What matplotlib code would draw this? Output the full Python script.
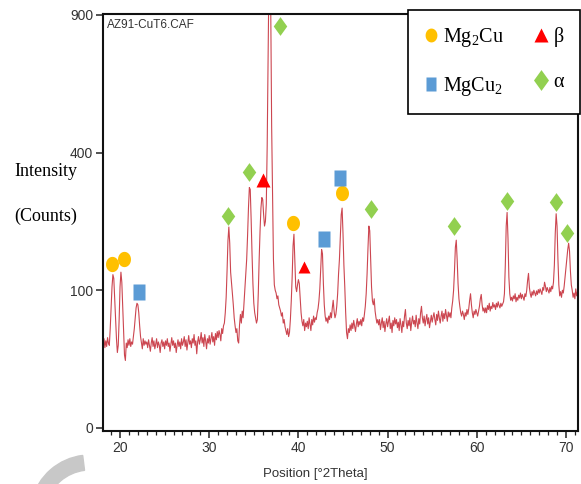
import numpy as np
import matplotlib.pyplot as plt
from matplotlib.lines import Line2D
from matplotlib.patches import Wedge
from matplotlib.ticker import MultipleLocator, FixedLocator
from matplotlib.transforms import IdentityTransform

plt.rcParams['mathtext.default'] = 'regular'

# --- scan data (start, step, counts) ---
scan_start = 18.1
scan_step = 0.1
counts = [
    37, 42, 34, 40, 35, 43, 38, 36, 52,                 # 18.1-18.9
    75, 105, 124, 118, 88, 60, 42, 30, 36, 62,          # 19
    105, 128, 112, 78, 48, 28, 24, 38, 34, 41,          # 20
    36, 42, 35, 39, 37, 44, 52, 64, 76, 82,             # 21
    80, 70, 55, 44, 38, 33, 42, 36, 40, 37,             # 22
    39, 34, 41, 36, 31, 38, 43, 35, 40, 33,             # 23
    37, 42, 34, 39, 36, 30, 38, 41, 35, 39,             # 24
    33, 40, 36, 42, 35, 38, 31, 37, 43, 36,             # 25
    40, 34, 38, 30, 36, 41, 35, 39, 33, 42,             # 26
    36, 39, 44, 35, 41, 32, 38, 45, 37, 40,             # 27
    34, 42, 38, 46, 36, 40, 29, 39, 44, 37,             # 28
    41, 48, 38, 43, 35, 46, 40, 33, 42, 38,             # 29
    45, 37, 42, 48, 39, 44, 36, 47, 41, 49,             # 30
    43, 50, 46, 40, 52, 47, 55, 58, 70, 90,             # 31
    130, 185, 213, 180, 128, 110, 95, 80, 64, 55,       # 32
    48, 52, 40, 38, 56, 68, 58, 72, 64, 82,             # 33
    100, 125, 150, 195, 255, 305, 300, 230, 160, 110,   # 34
    82, 70, 64, 58, 62, 95, 150, 205, 255, 280,         # 35
    275, 240, 215, 225, 265, 420, 700, 1100, 1200, 920, # 36
    480, 290, 150, 108, 100, 96, 88, 92, 80, 76,        # 37
    72, 66, 70, 58, 62, 54, 50, 46, 52, 44,             # 38
    48, 62, 85, 120, 175, 198, 150, 105, 98, 108,       # 39
    116, 110, 88, 70, 60, 55, 62, 50, 58, 54,           # 40
    60, 52, 64, 57, 50, 62, 56, 66, 59, 64,             # 41
    62, 70, 75, 85, 102, 135, 168, 160, 110, 80,        # 42
    66, 60, 64, 58, 66, 62, 70, 64, 76, 86,             # 43
    72, 64, 68, 78, 95, 125, 150, 190, 240, 255,        # 44
    200, 140, 105, 70, 48, 42, 52, 48, 56, 50,          # 45
    58, 52, 61, 55, 49, 57, 63, 54, 60, 56,             # 46
    62, 55, 64, 60, 68, 78, 95, 125, 170, 215,          # 47
    205, 150, 105, 85, 80, 88, 72, 64, 58, 62,          # 48
    56, 62, 51, 58, 64, 53, 60, 49, 57, 63,             # 49
    54, 60, 66, 52, 58, 48, 61, 55, 64, 57,             # 50
    62, 53, 59, 50, 63, 56, 48, 60, 54, 66,             # 51
    74, 58, 52, 61, 55, 64, 50, 59, 66, 57,             # 52
    61, 54, 67, 58, 52, 63, 57, 70, 78, 64,             # 53
    58, 66, 55, 62, 68, 57, 64, 53, 60, 67,             # 54
    59, 65, 70, 62, 56, 68, 61, 72, 64, 58,             # 55
    66, 72, 60, 69, 63, 74, 67, 60, 71, 65,             # 56
    70, 64, 76, 85, 100, 130, 172, 186, 150, 110,       # 57
    88, 78, 70, 66, 72, 68, 62, 70, 66, 74,             # 58
    68, 75, 86, 95, 80, 70, 64, 72, 68, 74,             # 59
    70, 66, 72, 78, 88, 94, 80, 72, 76, 70,             # 60
    76, 70, 79, 74, 82, 72, 78, 75, 83, 77,             # 61
    80, 74, 82, 77, 84, 79, 76, 82, 78, 81,             # 62
    84, 95, 140, 215, 245, 190, 120, 95, 86, 90,        # 63
    85, 92, 88, 95, 84, 90, 86, 93, 89, 96,             # 64
    88, 94, 90, 86, 95, 91, 100, 115, 126, 104,         # 65
    95, 90, 98, 93, 100, 96, 92, 99, 94, 101,           # 66
    96, 102, 98, 94, 104, 100, 112, 106, 98, 104,       # 67
    100, 96, 104, 98, 106, 102, 112, 140, 200, 242,     # 68
    215, 150, 108, 92, 98, 90, 100, 96, 106, 120,       # 69
    135, 150, 168, 180, 165, 130, 108, 100, 90, 96,     # 70
    88, 102, 92, 98,                                    # 71.0-71.3
]

# --- phase markers (2theta, counts) ---
mg2cu_x = [19.10, 20.45, 39.39, 44.89]
mg2cu_y = [142, 151, 222, 291]
mgcu2_x = [22.16, 42.87, 44.70]
mgcu2_y = [97, 189, 329]
beta_x = [36.07, 40.66]
beta_y = [324, 136]
alpha_x = [32.14, 34.50, 37.94, 48.14, 57.44, 63.39, 68.85, 70.15]
alpha_y = [238, 345, 854, 252, 216, 272, 269, 201]

y_ticks = [0, 100, 400, 900]
x_ticks = [20, 30, 40, 50, 60, 70]

orange = '#FFC000'
red = '#FF0000'
blue = '#5B9BD5'
green = '#92D050'

sans = ['Liberation Sans', 'DejaVu Sans']
serif = ['Liberation Serif', 'DejaVu Serif']

t = np.linspace(0, 2 * np.pi, 40)
ellipse = list(zip(0.85 * np.cos(t), np.sin(t)))
tall_square = [(-0.73, -1), (0.73, -1), (0.73, 1), (-0.73, 1), (-0.73, -1)]
tall_diamond = [(0, 1), (0.72, 0), (0, -1), (-0.72, 0), (0, 1)]


def fwd(v):
    v = np.asarray(v, dtype=float)
    return np.sign(v) * np.sqrt(np.abs(v))


def inv(s):
    s = np.asarray(s, dtype=float)
    return np.sign(s) * s ** 2


two_theta = scan_start + scan_step * np.arange(len(counts))

fig = plt.figure(figsize=(5.81, 4.84), dpi=100)
ax = fig.add_axes([103 / 581, 1 - 431 / 484, 475 / 581, 417 / 484])

ax.plot(two_theta, counts, color='#cc4650', lw=0.8, zorder=2)

ax.plot(mg2cu_x, mg2cu_y, ls='none', marker=ellipse, ms=11, color=orange, mec='none', zorder=3)
ax.plot(mgcu2_x, mgcu2_y, ls='none', marker=tall_square, ms=11, color=blue, mec='none', zorder=3)
ax.plot(beta_x[:1], beta_y[:1], ls='none', marker='^', ms=10, color=red, mec='none', zorder=3)
ax.plot(beta_x[1:], beta_y[1:], ls='none', marker='^', ms=8, color=red, mec='none', zorder=3)
ax.plot(alpha_x, alpha_y, ls='none', marker=tall_diamond, ms=13.5, color=green, mec='none', zorder=3)

ax.set_yscale('function', functions=(fwd, inv))
ax.set_xlim(18.09, 71.35)
ax.set_ylim(-0.05, 904)
ax.yaxis.set_major_locator(FixedLocator(y_ticks))
ax.set_yticklabels([str(v) for v in y_ticks])
ax.yaxis.set_minor_locator(FixedLocator([]))
ax.set_xticks(x_ticks)
ax.xaxis.set_minor_locator(MultipleLocator(1))

ax.tick_params(axis='both', which='major', direction='out', length=5, width=1.1,
               labelsize=10, pad=2, color='#222222')
ax.tick_params(axis='x', which='minor', direction='out', length=3, width=0.9, color='#222222')
for lab in ax.get_xticklabels() + ax.get_yticklabels():
    lab.set_family(sans)
    lab.set_color('#333333')

for side in ['left', 'bottom', 'top', 'right']:
    ax.spines[side].set_linewidth(1.5)
    ax.spines[side].set_color('#111111')

ax.set_xlabel('Position [°2Theta]', family=sans, fontsize=9.5, color='#333333')
ax.xaxis.set_label_coords(0.448, -0.088)

ax.text(0.008, 0.988, 'AZ91-CuT6.CAF', transform=ax.transAxes, ha='left', va='top',
        family=sans, fontsize=8.5, color='#333333')

fig.text(14 / 581, 1 - 172 / 484, 'Intensity', ha='left', va='center', family=serif, fontsize=13)
fig.text(14 / 581, 1 - 216 / 484, '(Counts)', ha='left', va='center', family=serif, fontsize=13)

handles = [
    Line2D([], [], ls='none', marker=ellipse, ms=10, color=orange, mec='none', label='Mg$_2$Cu'),
    Line2D([], [], ls='none', marker=tall_square, ms=10, color=blue, mec='none', label='MgCu$_2$'),
    Line2D([], [], ls='none', marker='^', ms=10, color=red, mec='none', label='β'),
    Line2D([], [], ls='none', marker=tall_diamond, ms=15, color=green, mec='none', label='α'),
]
leg = fig.legend(handles=handles, ncol=2, loc='upper right',
                 bbox_to_anchor=(580 / 581, 1 - 10 / 484), bbox_transform=fig.transFigure,
                 frameon=True, fancybox=False, edgecolor='black', framealpha=1,
                 prop={'family': serif, 'size': 14.5}, handlelength=0.7, handletextpad=0.25,
                 columnspacing=1.5, labelspacing=1.3, borderpad=0.8, borderaxespad=0)
leg.get_frame().set_linewidth(1.2)

# faint watermark arc at the bottom-left corner
fig.add_artist(Wedge((90, -31), 60, 97, 165, width=15, color='#c8c8c8',
                     transform=IdentityTransform()))

fig.savefig('out.png', dpi=100)
